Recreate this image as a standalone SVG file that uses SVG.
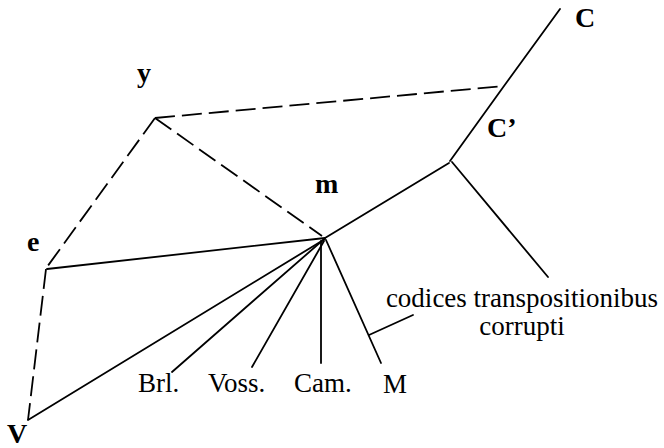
<svg xmlns="http://www.w3.org/2000/svg" width="664" height="448" viewBox="0 0 664 448">
<style>
  .ln { fill: none; stroke: #000; stroke-width: 1.8; stroke-linecap: round; stroke-linejoin: round; }
  .dash { stroke-dasharray: 20 7; stroke-linecap: butt; }
  .lbl { font-family: "Liberation Serif", "Times New Roman", serif; font-size: 27px; fill: #000; }
  .b { font-weight: bold; font-size: 28px; }
</style>
<rect width="664" height="448" fill="#fff"/>
<g id="connectors">
  <polyline class="ln" points="560,9 504,86 450,161"/>
  <line class="ln" x1="325" y1="238" x2="449" y2="163"/>
  <line class="ln" x1="452" y1="162" x2="548" y2="277"/>
  <line class="ln dash" x1="155" y1="118" x2="504" y2="86"/>
  <line class="ln dash" x1="155" y1="118" x2="322" y2="236"/>
  <line class="ln dash" x1="155" y1="118" x2="47" y2="267"/>
  <line class="ln dash" x1="46" y1="269" x2="28" y2="420"/>
  <line class="ln" x1="47" y1="269" x2="325" y2="238"/>
  <line class="ln" x1="28" y1="420" x2="325" y2="239"/>
  <line class="ln" x1="172" y1="372" x2="323" y2="240"/>
  <line class="ln" x1="252" y1="367" x2="324" y2="241"/>
  <line class="ln" x1="321" y1="363" x2="321" y2="241"/>
  <line class="ln" x1="381" y1="363" x2="326" y2="240"/>
  <line class="ln" x1="369" y1="335" x2="413" y2="315"/>
</g>
<g id="node-C"><text class="lbl b" x="575" y="27">C</text></g>
<g id="node-Cprime"><text class="lbl b" x="487" y="137">C’</text></g>
<g id="node-y"><text class="lbl b" x="137" y="82">y</text></g>
<g id="node-e"><text class="lbl b" x="27" y="251">e</text></g>
<g id="node-m"><text class="lbl b" x="315" y="193">m</text></g>
<g id="node-V"><text class="lbl b" x="7" y="443">V</text></g>
<g id="node-Brl"><text class="lbl" x="138" y="392">Brl.</text></g>
<g id="node-Voss"><text class="lbl" x="208" y="392">Voss.</text></g>
<g id="node-Cam"><text class="lbl" x="294" y="392">Cam.</text></g>
<g id="node-M"><text class="lbl" x="383" y="393">M</text></g>
<g id="node-codices">
  <text class="lbl" x="522" y="307" text-anchor="middle">codices transpositionibus</text>
  <text class="lbl" x="522" y="335" text-anchor="middle">corrupti</text>
</g>
</svg>
